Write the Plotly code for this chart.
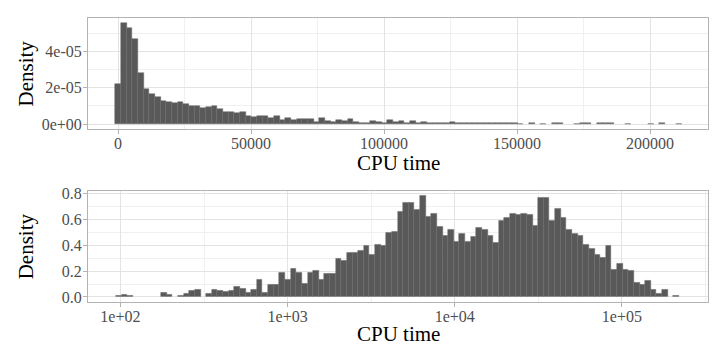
import plotly.graph_objects as go
from plotly.subplots import make_subplots
import numpy as np

# histogram setup: 100 bins between the smallest and largest CPU time
cpu_min = 98
cpu_max = 211000
n_bins = 100

# top panel: density per bin on the raw CPU-time scale (units of 1e-6)
dens_linear_e6 = [
    21.9, 55.9, 53.3, 47.1, 28.1, 19.4, 16.4, 14.8, 12.8, 12.4,
    11.5, 12.4, 11.0, 9.7, 9.7, 9.1, 9.3, 9.9, 8.2, 6.9,
    6.8, 6.0, 6.4, 4.4, 3.8, 4.2, 4.2, 3.5, 4.2, 2.4,
    3.1, 2.4, 2.7, 2.7, 2.7, 1.3, 3.1, 1.6, 0.9, 2.4,
    1.8, 2.6, 1.3, 0.7, 0.7, 1.6, 1.1, 0.4, 2.0, 1.1,
    1.5, 0.5, 1.6, 0.5, 1.1, 0.7, 0.4, 0.4, 0.4, 1.1,
    0.3, 0.4, 0.3, 0.6, 0.3, 0.4, 0.4, 0.4, 0.6, 0.6,
    0.6, 0.1, 0.0, 0.3, 0.0, 0.1, 0.0, 0.3, 0.3, 0.0,
    0.0, 0.1, 0.3, 0.3, 0.0, 0.3, 0.3, 0.3, 0.0, 0.0,
    0.1, 0.0, 0.0, 0.0, 0.1, 0.0, 0.3, 0.0, 0.0, 0.1,
]

# bottom panel: density per bin on log10(CPU time)
dens_log = [
    0.008, 0.021, 0.010, 0.0, 0.0, 0.0, 0.0, 0.0, 0.034, 0.021,
    0.0, 0.010, 0.023, 0.046, 0.057, 0.0, 0.023, 0.057, 0.046, 0.039,
    0.046, 0.080, 0.067, 0.036, 0.057, 0.137, 0.036, 0.093, 0.093, 0.191,
    0.134, 0.217, 0.191, 0.103, 0.191, 0.204, 0.137, 0.181, 0.181, 0.294,
    0.281, 0.341, 0.341, 0.361, 0.397, 0.330, 0.408, 0.400, 0.501, 0.508,
    0.660, 0.728, 0.728, 0.673, 0.784, 0.624, 0.648, 0.544, 0.477, 0.524,
    0.431, 0.488, 0.431, 0.464, 0.534, 0.524, 0.477, 0.421, 0.591, 0.617,
    0.648, 0.637, 0.648, 0.637, 0.555, 0.771, 0.771, 0.591, 0.681, 0.614,
    0.524, 0.488, 0.477, 0.408, 0.377, 0.330, 0.307, 0.397, 0.214, 0.261,
    0.214, 0.201, 0.108, 0.098, 0.126, 0.054, 0.023, 0.054, 0.0, 0.010,
]

lin_ticks = [0, 50000, 100000, 150000, 200000]
lin_minor = [25000, 75000, 125000, 175000]
log_ticks = [2, 3, 4, 5]
log_ticktext = ['1e+02', '1e+03', '1e+04', '1e+05']
log_minor = [2.5, 3.5, 4.5, 5.5]
dens_lin_ticks = [0, 2e-05, 4e-05]
dens_lin_ticktext = ['0e+00', '2e-05', '4e-05']
dens_lin_minor = [1e-05, 3e-05, 5e-05]
dens_log_ticks = [0, 0.2, 0.4, 0.6, 0.8]
dens_log_ticktext = ['0.0', '0.2', '0.4', '0.6', '0.8']
dens_log_minor = [0.1, 0.3, 0.5, 0.7]

# bin centres (ggplot style: first/last bin centred on min/max)
w_lin = (cpu_max - cpu_min) / (n_bins - 1)
x_lin = [cpu_min + i * w_lin for i in range(n_bins)]
lmin, lmax = np.log10(cpu_min), np.log10(cpu_max)
w_log = (lmax - lmin) / (n_bins - 1)
x_log = [lmin + i * w_log for i in range(n_bins)]
y_lin = [v * 1e-6 for v in dens_linear_e6]

# empty bins draw nothing
y_lin_plot = [v if v > 0 else None for v in y_lin]
y_log_plot = [v if v > 0 else None for v in dens_log]

FONT = 'Liberation Serif, DejaVu Serif, serif'
BAR = '#595959'
GRID = '#e3e3e3'
MINOR = '#f0f0f0'
BORDER = '#b3b3b3'

fig = make_subplots(rows=2, cols=1, vertical_spacing=0.2)
fig.add_trace(go.Bar(x=x_lin, y=y_lin_plot, width=w_lin,
                     marker=dict(color=BAR, line=dict(color='#6a6a6a', width=0.5))), row=1, col=1)
fig.add_trace(go.Bar(x=x_log, y=y_log_plot, width=w_log,
                     marker=dict(color=BAR, line=dict(color='#6a6a6a', width=0.5))), row=2, col=1)

axis_common = dict(
    showline=True, linecolor=BORDER, linewidth=1, mirror=True,
    showgrid=True, gridcolor=GRID, gridwidth=1, zeroline=False,
    ticks='outside', ticklen=4, tickcolor=BORDER, tickwidth=1,
    tickfont=dict(family=FONT, size=16, color='#4d4d4d'),
    automargin=False,
)
xstand = -4
ystand = -2

# page body has an 8px margin, so the plot area is pulled up/left by 8px
fig.update_layout(
    width=727, height=363,
    margin=dict(l=80, r=27, t=10, b=69),
    plot_bgcolor='white', paper_bgcolor='white',
    showlegend=False, bargap=0,
    font=dict(family=FONT),
    xaxis=dict(axis_common, range=[-11300, 221800], domain=[0, 1], ticklabelstandoff=xstand,
               tickmode='array', tickvals=lin_ticks, ticktext=[str(t) for t in lin_ticks],
               minor=dict(tickmode='array', tickvals=lin_minor, showgrid=True, gridcolor=MINOR, gridwidth=0.6, ticks='')),
    yaxis=dict(axis_common, range=[-0.05 * max(y_lin), 1.05 * max(y_lin)], domain=[0.609, 1], ticklabelstandoff=ystand,
               tickmode='array', tickvals=dens_lin_ticks, ticktext=dens_lin_ticktext,
               minor=dict(tickmode='array', tickvals=dens_lin_minor, showgrid=True, gridcolor=MINOR, gridwidth=0.6, ticks='')),
    xaxis2=dict(axis_common, range=[1.806, 5.515], domain=[0, 1], ticklabelstandoff=xstand,
                tickmode='array', tickvals=log_ticks, ticktext=log_ticktext,
                minor=dict(tickmode='array', tickvals=log_minor, showgrid=True, gridcolor=MINOR, gridwidth=0.6, ticks='')),
    yaxis2=dict(axis_common, range=[-0.05 * max(dens_log), 1.05 * max(dens_log)], domain=[0, 0.392], ticklabelstandoff=ystand,
                tickmode='array', tickvals=dens_log_ticks, ticktext=dens_log_ticktext,
                minor=dict(tickmode='array', tickvals=dens_log_minor, showgrid=True, gridcolor=MINOR, gridwidth=0.6, ticks='')),
)

title_font = dict(family=FONT, size=21, color='black')
for y in (0.4894, -0.1127):
    fig.add_annotation(text='CPU time', x=0.5, y=y, xref='paper', yref='paper',
                       showarrow=False, xanchor='center', yanchor='middle', font=title_font)
for y in (0.8046, 0.196):
    fig.add_annotation(text='Density', x=-0.1, y=y, xref='paper', yref='paper', textangle=-90,
                       showarrow=False, xanchor='center', yanchor='middle', font=title_font)

fig.write_html("out.html")
